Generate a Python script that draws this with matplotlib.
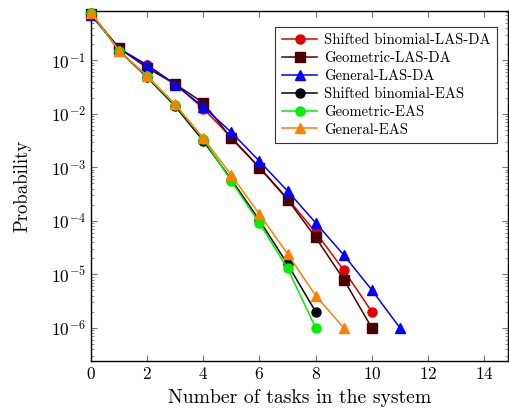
import matplotlib
matplotlib.use("Agg")
import matplotlib.pyplot as plt
from matplotlib.ticker import LogLocator, NullFormatter, MultipleLocator

plt.rcParams['font.family'] = ['cmr10', 'DejaVu Serif']
plt.rcParams['mathtext.fontset'] = 'cm'
plt.rcParams['axes.formatter.use_mathtext'] = True

series_names = ["Shifted binomial-LAS-DA", "Geometric-LAS-DA", "General-LAS-DA",
                "Shifted binomial-EAS", "Geometric-EAS", "General-EAS"]
sb_las = [0.74, 0.165, 0.080, 0.036, 0.0125, 0.0036, 1.0e-3, 2.6e-4, 6.1e-5, 1.2e-5, 2e-6]
geo_las = [0.72, 0.169, 0.072, 0.036, 0.016, 0.0035, 9.8e-4, 2.5e-4, 4.9e-5, 8e-6, 1e-6]
gen_las = [0.70, 0.165, 0.082, 0.035, 0.0135, 0.0045, 1.3e-3, 3.6e-4, 9.2e-5, 2.3e-5, 5.1e-6, 1e-6]
sb_eas = [0.78, 0.150, 0.048, 0.0138, 0.0031, 5.9e-4, 1.02e-4, 1.55e-5, 2e-6]
geo_eas = [0.78, 0.150, 0.050, 0.0148, 0.0034, 5.5e-4, 9.0e-5, 1.29e-5, 1e-6]
gen_eas = [0.78, 0.152, 0.051, 0.0150, 0.0035, 7.1e-4, 1.33e-4, 2.4e-5, 4e-6, 1e-6]
all_series = [sb_las, geo_las, gen_las, sb_eas, geo_eas, gen_eas]
colors = ["#e00000", "#4a0000", "#0000ff", "#000000", "#00ee00", "#ff8000"]
markers = ["o", "s", "^", "o", "o", "^"]

fig = plt.figure(figsize=(5.09, 4.16), dpi=100)
ax = fig.add_axes([91/509, 1 - 361/416, (508-91)/509, (361-10.7)/416])

for name, vals, c, m in zip(series_names, all_series, colors, markers):
    xs = list(range(len(vals)))
    ax.plot(xs, vals, color=c, marker=m, markersize=6.5, linewidth=1.1,
            label=name, clip_on=False, zorder=3)

ax.set_yscale('log')
ax.set_xlim(0, 14.85)
ax.set_ylim(2.4e-7, 0.845)
ax.xaxis.set_major_locator(MultipleLocator(2))
ax.yaxis.set_minor_locator(LogLocator(base=10, subs=range(2, 10), numticks=100))
ax.yaxis.set_minor_formatter(NullFormatter())
ax.set_yticks([1e-1, 1e-2, 1e-3, 1e-4, 1e-5, 1e-6])

ax.tick_params(which='both', direction='in', top=True, right=True, color='#777777')
ax.tick_params(which='major', length=4, width=0.8, labelsize=12.5)
ax.tick_params(which='minor', length=2.5, width=0.6)
for s in ax.spines.values():
    s.set_linewidth(1.0)

ax.set_xlabel("Number of tasks in the system", fontsize=14.2, labelpad=5)
ax.set_ylabel("Probability", fontsize=13.5, labelpad=14)

leg = ax.legend(loc='upper right', bbox_to_anchor=((497-91)/417, 1 - (27-10.7)/350.3),
                fontsize=10.6, frameon=True, fancybox=False, edgecolor='black',
                handlelength=2.4, borderpad=0.45, labelspacing=0.28, handletextpad=0.45,
                borderaxespad=0)
leg.get_frame().set_linewidth(0.8)

fig.savefig("out.png", dpi=100)
